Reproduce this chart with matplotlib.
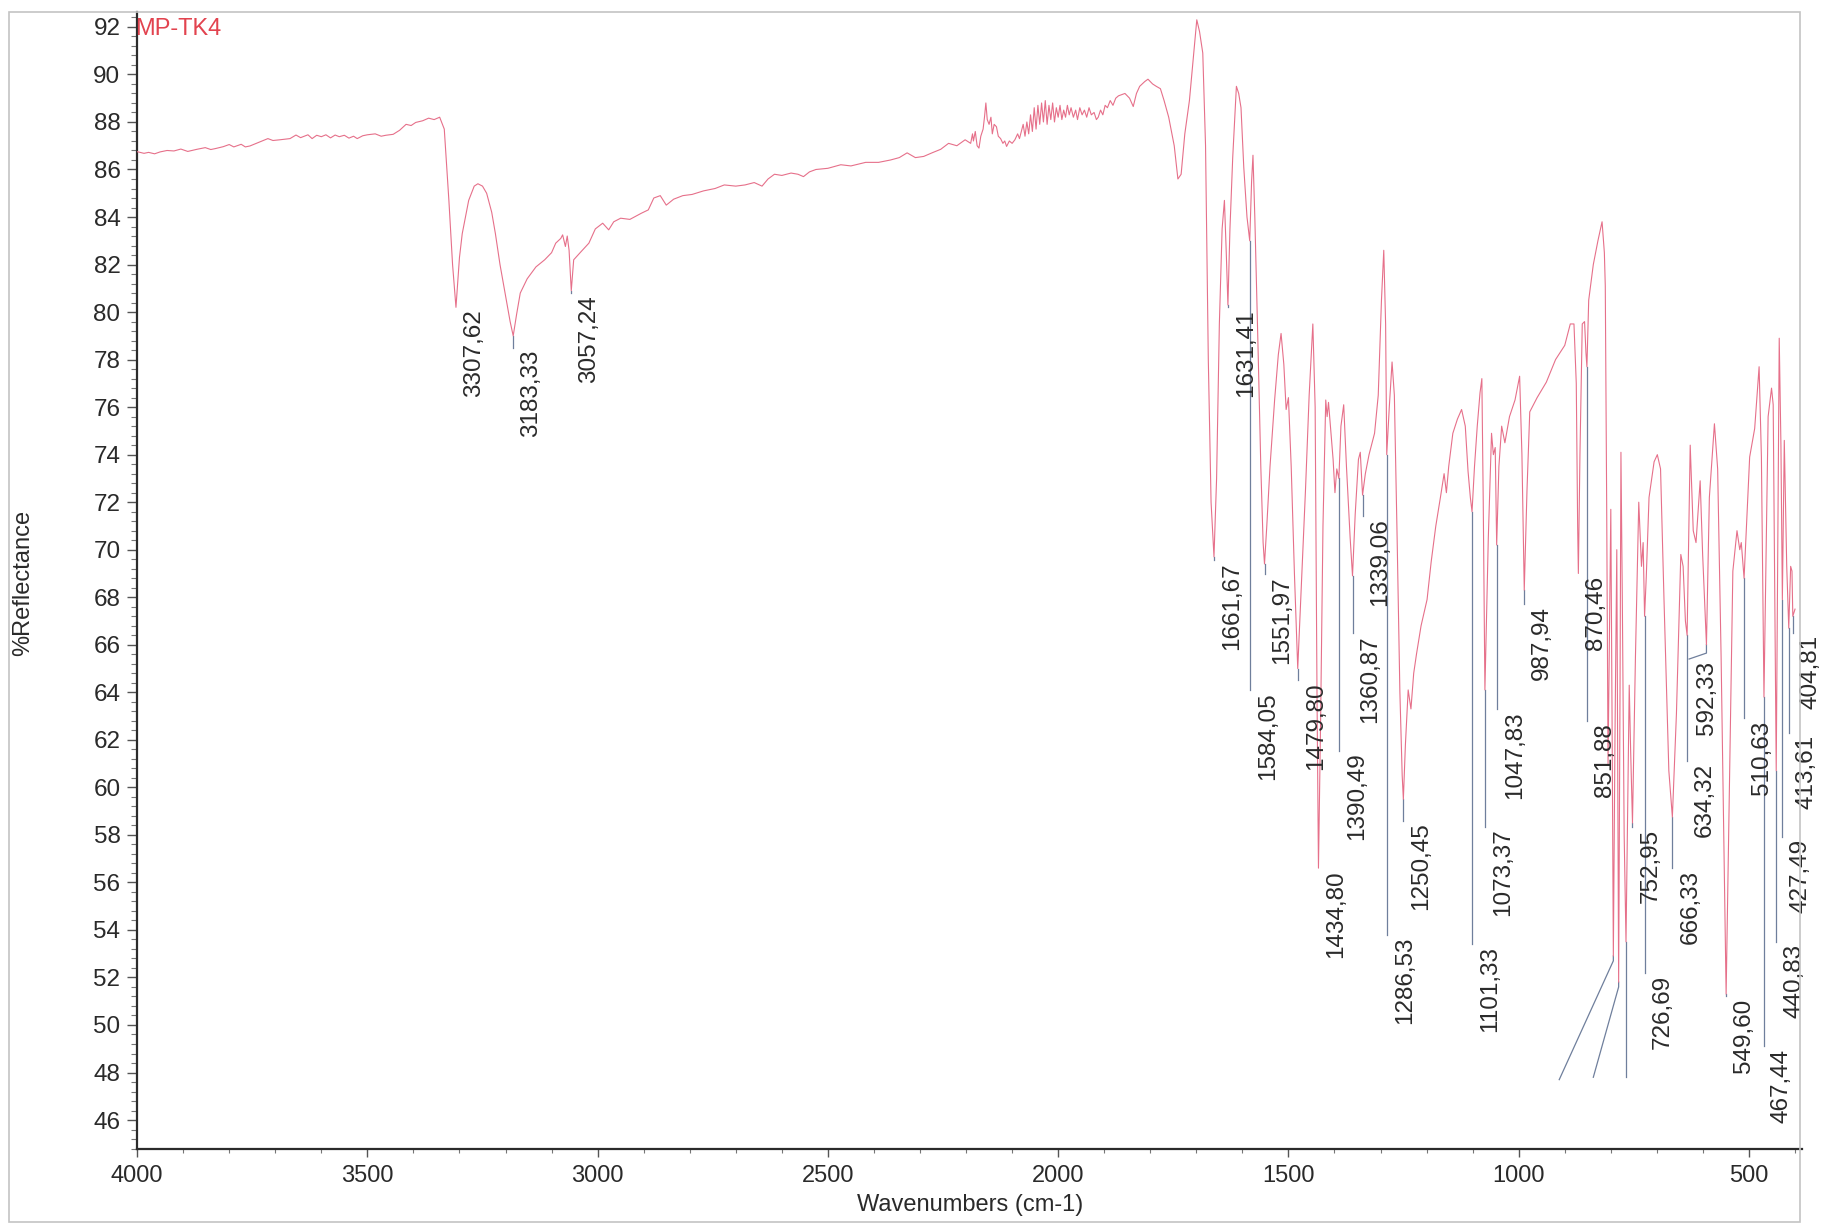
import numpy as np
import matplotlib
matplotlib.use('Agg')
import matplotlib.pyplot as plt
from matplotlib.ticker import MultipleLocator
from matplotlib.transforms import offset_copy
from matplotlib.patches import Rectangle

plt.rcParams['font.family'] = ['Liberation Sans', 'DejaVu Sans']

# ---------------- data ----------------
# 4000-2200 cm-1
wn_high = [
    4000, 3985, 3975, 3962, 3950, 3935, 3920, 3905, 3890, 3870, 3852, 3840, 3830, 3813, 3800, 3790,
    3774, 3765, 3755, 3735, 3716, 3705, 3690, 3668, 3655, 3645, 3629, 3620, 3610, 3600, 3590, 3580,
    3570, 3561, 3550, 3540, 3530, 3522, 3510, 3500, 3483, 3470, 3460, 3444, 3430, 3416, 3405, 3395,
    3380, 3367, 3355, 3343, 3333, 3323, 3315, 3307.62, 3300, 3294, 3280, 3268, 3260, 3250, 3241, 3230,
    3222, 3212, 3202, 3190, 3183.33, 3176, 3168, 3153, 3134, 3115, 3100, 3091, 3080, 3076, 3070, 3066,
    3062, 3057.24, 3052, 3038, 3019, 3005, 2989, 2976, 2965, 2950, 2930, 2905, 2890, 2878, 2864, 2851,
    2835, 2815, 2795, 2770, 2745, 2725, 2700, 2680, 2660, 2643, 2630, 2616, 2600, 2580, 2565, 2553,
    2540, 2526, 2500, 2472, 2450, 2418, 2390, 2364, 2345, 2328, 2310, 2292, 2274, 2255, 2238, 2220,
    2202,
]
ref_high = [
    86.75, 86.68, 86.72, 86.66, 86.74, 86.80, 86.78, 86.86, 86.76, 86.85, 86.92, 86.84, 86.88, 86.96, 87.05, 86.95,
    87.06, 86.95, 86.99, 87.15, 87.30, 87.22, 87.25, 87.30, 87.45, 87.34, 87.46, 87.30, 87.44, 87.38, 87.46, 87.33,
    87.45, 87.38, 87.44, 87.32, 87.40, 87.30, 87.42, 87.46, 87.50, 87.40, 87.44, 87.48, 87.65, 87.90, 87.85, 87.98,
    88.05, 88.16, 88.10, 88.20, 87.70, 84.70, 82.00, 80.20, 82.30, 83.30, 84.70, 85.30, 85.40, 85.30, 85.00, 84.20,
    83.30, 82.00, 80.90, 79.60, 79.00, 79.90, 80.80, 81.40, 81.90, 82.20, 82.50, 82.90, 83.10, 83.25, 82.76, 83.20,
    82.60, 80.90, 82.20, 82.50, 82.90, 83.50, 83.74, 83.46, 83.80, 83.95, 83.90, 84.16, 84.30, 84.80, 84.90, 84.50,
    84.75, 84.90, 84.95, 85.10, 85.20, 85.35, 85.30, 85.35, 85.45, 85.30, 85.60, 85.80, 85.75, 85.85, 85.80, 85.70,
    85.90, 86.00, 86.05, 86.20, 86.15, 86.30, 86.30, 86.40, 86.50, 86.70, 86.50, 86.55, 86.70, 86.85, 87.10, 87.00,
    87.25,
]
# 2200-1700 cm-1 (noisy band region)
wn_mid = [
    2190, 2186, 2184, 2180, 2176, 2172, 2168, 2163, 2160, 2157, 2154, 2150, 2146, 2143, 2139, 2134,
    2130, 2125, 2120, 2116, 2112, 2106, 2100, 2094, 2088, 2084, 2080, 2076, 2072, 2068, 2064, 2060,
    2056, 2052, 2048, 2044, 2040, 2036, 2032, 2028, 2024, 2020, 2016, 2012, 2008, 2004, 2000, 1996,
    1992, 1988, 1984, 1980, 1976, 1972, 1967, 1962, 1958, 1953, 1948, 1943, 1938, 1933, 1928, 1922,
    1917, 1913, 1908, 1903, 1898, 1893, 1887, 1881, 1875, 1869, 1855, 1845, 1837, 1830, 1823, 1812,
    1805, 1795, 1787, 1778, 1770, 1760, 1748, 1740, 1733, 1725, 1715, 1705,
]
ref_mid = [
    87.10, 87.50, 87.20, 87.60, 87.00, 86.90, 87.40, 87.70, 88.20, 88.80, 88.10, 87.90, 88.20, 87.50, 87.90, 87.80,
    87.40, 87.30, 87.10, 87.20, 86.97, 87.20, 87.10, 87.25, 87.50, 87.30, 87.60, 87.90, 87.40, 88.00, 87.50, 88.30,
    87.60, 88.60, 87.70, 88.70, 87.90, 88.80, 88.00, 88.90, 87.90, 88.70, 88.10, 88.80, 88.00, 88.60, 88.20, 88.70,
    88.10, 88.50, 88.20, 88.70, 88.30, 88.60, 88.20, 88.50, 88.10, 88.60, 88.30, 88.50, 88.20, 88.60, 88.30, 88.40,
    88.10, 88.20, 88.50, 88.30, 88.70, 88.60, 88.90, 88.70, 89.00, 89.10, 89.20, 89.00, 88.65, 89.20, 89.50, 89.70,
    89.80, 89.60, 89.50, 89.40, 88.90, 88.20, 87.00, 85.60, 85.80, 87.50, 88.90, 91.00,
]
# 1700-1100 cm-1
wn_finger1 = [
    1699, 1693, 1686, 1680, 1674, 1668, 1661.67, 1656, 1650, 1644, 1639, 1635, 1631.41, 1627, 1621, 1613,
    1608, 1603, 1597, 1590, 1584.05, 1580, 1577, 1573, 1566, 1560, 1555, 1551.97, 1547, 1540, 1530, 1522,
    1516, 1510, 1505, 1500, 1494, 1487, 1479.80, 1472, 1463, 1455, 1447, 1442, 1438, 1434.80, 1430, 1425,
    1419, 1416, 1413, 1408, 1403, 1399, 1395, 1390.49, 1386, 1380, 1374, 1366, 1360.87, 1355, 1348, 1344,
    1339.06, 1333, 1325, 1313, 1305, 1298, 1293, 1289, 1286.53, 1281, 1275, 1270, 1264, 1258, 1253, 1250.45,
    1246, 1240, 1234, 1228, 1222, 1212, 1199, 1190, 1180, 1170, 1162, 1157, 1152, 1143, 1133, 1124,
    1116, 1110, 1105,
]
ref_finger1 = [
    92.30, 91.80, 90.90, 87.00, 78.00, 72.00, 69.70, 73.00, 79.50, 83.50, 84.70, 82.50, 80.30, 83.50, 86.50, 89.50,
    89.20, 88.60, 86.10, 84.00, 83.00, 85.50, 86.60, 84.00, 78.50, 73.50, 70.30, 69.40, 71.00, 73.50, 76.30, 78.20,
    79.10, 77.80, 75.90, 76.40, 73.50, 69.00, 65.00, 68.50, 72.50, 76.50, 79.50, 76.00, 64.00, 56.60, 63.00, 71.00,
    76.30, 75.60, 76.20, 75.00, 73.80, 72.40, 73.40, 73.00, 75.20, 76.10, 73.50, 70.50, 68.90, 71.50, 73.80, 74.10,
    72.30, 73.20, 74.00, 74.90, 76.50, 80.50, 82.60, 79.50, 74.00, 76.00, 77.90, 76.50, 70.50, 64.00, 60.50, 59.50,
    61.80, 64.10, 63.30, 64.80, 65.60, 66.80, 67.90, 69.50, 71.00, 72.20, 73.20, 72.40, 73.50, 74.90, 75.50, 75.90,
    75.20, 73.30, 72.20,
]
# 1100-400 cm-1
wn_finger2 = [
    1101.33, 1096, 1090, 1084, 1080, 1077, 1073.37, 1066, 1059, 1055, 1051, 1047.83, 1043, 1037, 1030, 1020,
    1008, 998, 993, 987.94, 982, 976, 960, 940, 920, 900, 888, 880, 875, 872, 870.46, 867,
    862, 857, 854, 851.88, 848, 838, 828, 819, 814, 812, 809, 806, 803, 800, 797, 794.5,
    791, 787, 783, 780, 778, 775, 771, 767, 764, 760, 757, 752.95, 746.5, 739.3, 733.4, 729.8,
    726.69, 723, 717, 706, 699, 692, 684.5, 674, 666.33, 657.5, 648, 643, 638, 634.32, 627.6, 621,
    615, 606, 600.6, 592.33, 586, 575, 568, 560.5, 553, 549.60, 542, 535, 526, 520, 516.7, 510.63,
    498.5, 487.6, 478, 473, 467.44, 458.4, 451, 447.4, 443, 440.83, 434.3, 430.6, 427.49, 423.3, 418, 413.61,
    409.5, 406.6, 404.81, 400,
]
ref_finger2 = [
    71.60, 73.50, 75.20, 76.60, 77.20, 72.00, 64.10, 70.50, 74.90, 74.00, 74.30, 70.20, 73.50, 75.20, 74.50, 75.60,
    76.30, 77.30, 74.00, 68.30, 72.50, 75.80, 76.40, 77.05, 78.00, 78.60, 79.50, 79.50, 77.00, 71.00, 69.00, 74.00,
    79.50, 79.60, 78.30, 77.70, 80.50, 82.00, 83.00, 83.80, 82.50, 81.10, 72.00, 61.00, 66.40, 71.70, 62.00, 52.90,
    62.00, 70.00, 51.80, 64.00, 74.10, 67.90, 58.00, 53.50, 58.00, 64.30, 61.60, 58.50, 65.50, 72.00, 69.30, 70.30,
    67.20, 68.85, 72.20, 73.70, 74.00, 73.40, 67.90, 60.70, 58.75, 63.10, 69.80, 69.30, 67.00, 66.40, 74.40, 70.80,
    70.30, 72.90, 69.80, 66.00, 72.20, 75.30, 73.40, 65.50, 55.90, 51.30, 60.70, 69.10, 70.80, 70.00, 70.30, 68.80,
    73.90, 75.10, 77.70, 73.90, 63.80, 75.60, 76.80, 76.10, 65.50, 60.70, 78.90, 74.40, 67.90, 74.60, 69.30, 66.70,
    69.30, 69.10, 67.20, 67.50,
]

sample_name = "MP-TK4"
peak_wavenumbers = [3307.62, 3183.33, 3057.24, 1661.67, 1631.41, 1584.05, 1551.97, 1479.80, 1434.80,
                    1390.49, 1360.87, 1339.06, 1286.53, 1250.45, 1101.33, 1073.37, 1047.83, 987.94,
                    870.46, 851.88, 752.95, 726.69, 666.33, 634.32, 592.33, 549.60, 510.63, 467.44,
                    440.83, 427.49, 413.61, 404.81]
peak_labels = [f"{w:.2f}".replace('.', ',') for w in peak_wavenumbers]

y_ticks = list(range(46, 93, 2))
x_ticks = [4000, 3500, 3000, 2500, 2000, 1500, 1000, 500]

# ---------------- layout (label placement) ----------------
label_tops = [80.2, 78.5, 80.8, 69.55, 80.2, 64.1, 68.96, 64.5, 56.6,
              61.55, 66.5, 71.4, 53.8, 58.6, 53.4, 58.35, 63.3, 67.7,
              69.0, 62.8, 58.35, 52.2, 56.6, 61.1, 65.4, 51.2, 62.9, 49.1,
              53.5, 57.9, 62.3, 66.5]
label_x_override = {592.33: 630.0}          # label moved sideways, leader kinks
# leaders whose labels fall outside the frame
extra_leader_w = [794.5, 783.0, 767.0]
extra_leader_kink = [52.7, 51.6, 47.8]
extra_leader_end_w = [912.0, 838.0, 767.0]
extra_leader_end_v = [47.7, 47.8, 47.8]

wavenumber = wn_high + wn_mid + wn_finger1 + wn_finger2
reflectance = ref_high + ref_mid + ref_finger1 + ref_finger2

W, H = 1838, 1227
fig = plt.figure(figsize=(W / 100, H / 100), dpi=100)
fig.patch.set_facecolor('white')

# page border of the scan
fig.add_artist(Rectangle((9 / W, 5 / H), (1800 - 9) / W, (1215 - 5) / H,
                         transform=fig.transFigure, fill=False,
                         edgecolor='#c4c4c4', lw=1.2))

ax_l, ax_r = 137.1 / W, 1801.7 / W
ax_b, ax_t = (H - 1148.8) / H, (H - 11.7) / H
ax = fig.add_axes([ax_l, ax_b, ax_r - ax_l, ax_t - ax_b])
ax.set_facecolor('none')

curve_color = '#e6708a'
leader_color = '#6f7f9c'

ax.plot(wavenumber, reflectance, color=curve_color, lw=0.8, zorder=3)

ax.set_xlim(4000, 385.5)
ax.set_ylim(44.79, 92.64)

wn_inc = np.array(wavenumber[::-1])
rf_inc = np.array(reflectance[::-1])

text_tr = offset_copy(ax.transData, fig=fig, x=18, y=-2, units='dots')
for w, lab, top in zip(peak_wavenumbers, peak_labels, label_tops):
    v0 = float(np.interp(w, wn_inc, rf_inc))
    wl = label_x_override.get(w, w)
    if wl != w:
        ax.plot([w, w, wl], [v0, top + 0.25, top], color=leader_color, lw=0.9, zorder=2)
    else:
        ax.plot([w, w], [v0, top], color=leader_color, lw=0.9, zorder=2)
    ax.text(wl, top, lab, rotation=90, ha='center', va='top', fontsize=17.5,
            color='#2a2a2a', transform=text_tr, zorder=4)

for w, k, ew, ev in zip(extra_leader_w, extra_leader_kink, extra_leader_end_w, extra_leader_end_v):
    v0 = float(np.interp(w, wn_inc, rf_inc))
    ax.plot([w, w, ew], [v0, k, ev], color=leader_color, lw=0.9, zorder=2)

# axes styling
for s in ['top', 'right']:
    ax.spines[s].set_visible(False)
for s in ['left', 'bottom']:
    ax.spines[s].set_color('#2b2b2b')
    ax.spines[s].set_linewidth(1.6)

ax.set_yticks(y_ticks)
ax.set_xticks(x_ticks)
ax.yaxis.set_minor_locator(MultipleLocator(0.4))
ax.xaxis.set_minor_locator(MultipleLocator(100))
ax.tick_params(axis='y', which='major', direction='out', length=7, width=1.0,
               color='#555555', labelsize=17.5, labelcolor='#2a2a2a', pad=5)
ax.tick_params(axis='y', which='minor', direction='out', length=4, width=0.8, color='#777777')
ax.tick_params(axis='x', which='major', direction='out', length=6, width=1.0,
               color='#555555', labelsize=17, labelcolor='#2a2a2a', pad=6)
ax.tick_params(axis='x', which='minor', direction='out', length=3, width=0.8, color='#777777')

fig.text(23.5 / W, 1 - 582.6 / H, '%Reflectance', rotation=90, ha='center', va='center',
         fontsize=17, color='#2a2a2a')
fig.text(970.6 / W, 1 - 1205 / H, 'Wavenumbers (cm-1)', ha='center', va='center',
         fontsize=17, color='#2a2a2a')
fig.text(134.8 / W, 1 - 29.3 / H, sample_name, ha='left', va='center',
         fontsize=17, color='#e2434f')

fig.savefig('out.png', dpi=100, facecolor='white')
